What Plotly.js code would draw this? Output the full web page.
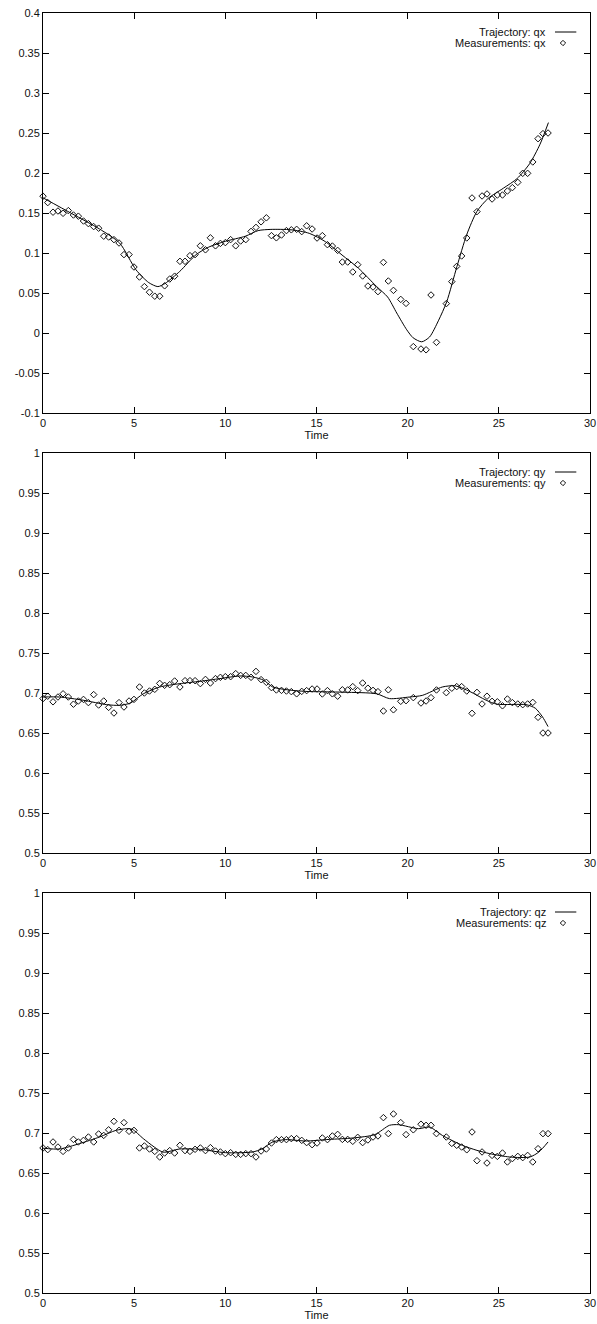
<!DOCTYPE html>
<html>
<head>
<meta charset="utf-8">
<script src="https://cdn.plot.ly/plotly-3.0.1.min.js"></script>
<style>html,body{margin:0;padding:0;background:#fff;}#chart{width:597px;height:1324px;}</style>
</head>
<body>
<div id="chart"></div>
<script>
const time = [0.00,0.26,0.55,0.82,1.10,1.39,1.67,1.94,2.22,2.49,2.78,3.05,3.33,3.60,3.89,4.17,4.44,4.72,4.99,5.29,
5.56,5.84,6.13,6.40,6.67,6.95,7.22,7.51,7.79,8.06,8.34,8.63,8.91,9.18,9.46,9.73,10.00,10.29,10.57,10.84,
11.12,11.41,11.68,11.96,12.25,12.53,12.80,13.08,13.35,13.62,13.91,14.19,14.46,14.76,15.03,15.32,15.60,15.87,16.16,16.42,
16.71,16.99,17.26,17.53,17.82,18.10,18.37,18.67,18.94,19.22,19.62,19.91,20.31,20.73,21.01,21.28,21.58,22.12,22.42,22.69,
22.96,23.24,23.53,23.80,24.08,24.35,24.63,24.92,25.20,25.47,25.74,26.04,26.31,26.58,26.86,27.15,27.42,27.70];

const qxMeas = [0.171,0.163,0.151,0.1525,0.1496,0.153,0.1475,0.146,0.140,0.1367,0.133,0.131,0.121,0.120,0.1167,0.1125,0.098,0.098,0.0825,0.070,
0.058,0.051,0.046,0.046,0.059,0.0675,0.071,0.0896,0.0896,0.0967,0.098,0.109,0.104,0.119,0.109,0.112,0.113,0.1167,0.109,0.115,
0.1167,0.127,0.132,0.139,0.144,0.1217,0.119,0.1225,0.128,0.129,0.1296,0.1267,0.134,0.130,0.1187,0.1217,0.1104,0.1087,0.1033,0.0887,
0.0887,0.0763,0.0854,0.0713,0.0587,0.0575,0.0517,0.0883,0.065,0.0533,0.042,0.037,-0.017,-0.020,-0.021,0.0475,-0.0117,0.0367,0.0642,0.0833,
0.0963,0.1188,0.1688,0.1517,0.1713,0.1738,0.1675,0.1725,0.1725,0.1775,0.1817,0.1883,0.1996,0.1996,0.2138,0.2429,0.2492,0.250];

const qyMeas = [0.693,0.696,0.689,0.695,0.699,0.695,0.686,0.690,0.692,0.688,0.698,0.685,0.690,0.682,0.675,0.688,0.6825,0.690,0.692,0.7075,
0.700,0.7025,0.7046,0.712,0.7096,0.7104,0.715,0.7075,0.7154,0.7154,0.7154,0.7117,0.717,0.7125,0.718,0.7196,0.7204,0.7204,0.7242,0.722,
0.722,0.7196,0.727,0.7167,0.7133,0.7067,0.7038,0.7033,0.7025,0.7017,0.699,0.702,0.703,0.705,0.705,0.6988,0.703,0.699,0.696,0.704,
0.7038,0.708,0.703,0.7125,0.706,0.7033,0.7017,0.6775,0.704,0.679,0.6896,0.6904,0.6942,0.6875,0.690,0.6942,0.7038,0.7004,0.706,0.708,
0.708,0.7025,0.6746,0.7008,0.6863,0.696,0.6896,0.689,0.684,0.6925,0.688,0.6863,0.6854,0.6863,0.6883,0.6696,0.650,0.650];

const qzMeas = [0.6813,0.6792,0.6888,0.6825,0.677,0.6813,0.692,0.6888,0.6908,0.695,0.6888,0.6988,0.697,0.704,0.7146,0.7033,0.713,0.7021,0.7033,0.6813,
0.6838,0.680,0.677,0.670,0.675,0.678,0.675,0.6846,0.678,0.677,0.6796,0.6813,0.678,0.6817,0.6775,0.6763,0.6742,0.6754,0.6733,0.6733,
0.6742,0.6742,0.670,0.6775,0.680,0.6875,0.6917,0.6917,0.6917,0.693,0.693,0.6908,0.688,0.6854,0.6875,0.6938,0.6917,0.6963,0.6983,0.692,
0.692,0.6896,0.6946,0.688,0.6913,0.695,0.6963,0.7192,0.6992,0.7238,0.713,0.698,0.704,0.711,0.7096,0.7096,0.6992,0.695,0.687,0.6846,
0.6825,0.679,0.7013,0.6654,0.6763,0.6625,0.672,0.6708,0.675,0.6638,0.668,0.6708,0.6692,0.672,0.6638,0.6804,0.6992,0.6992];

// Estimated trajectories (knots)
const trajTimeX = [0,1.6,3.1,4.2,5.1,5.8,6.3,6.7,7.5,8.4,9.1,10.0,11.1,11.8,12.5,13.6,14.6,15.5,16.4,17.3,18.3,18.9,19.4,19.95,20.3,20.77,21.2,21.7,22.14,22.7,23.24,23.8,24.4,25.25,26.0,26.7,27.26,27.72];
const trajQx = [0.169,0.149,0.130,0.1125,0.079,0.063,0.058,0.062,0.077,0.098,0.1075,0.1146,0.121,0.128,0.1295,0.129,0.1246,0.114,0.0975,0.081,0.058,0.045,0.025,0.004,-0.006,-0.011,-0.005,0.016,0.039,0.083,0.123,0.152,0.168,0.181,0.193,0.212,0.236,0.263];

const trajTimeY = [0,0.9,2.2,3.5,4.2,4.8,5.5,6.4,7.5,8.6,9.7,10.8,11.5,12.1,12.6,13.4,14.4,16.5,18.3,19.0,20.1,20.8,21.9,22.6,23.4,24.3,24.9,26.5,27.0,27.4,27.7];
const trajQy = [0.695,0.695,0.691,0.6854,0.6846,0.6875,0.699,0.7075,0.7117,0.7146,0.718,0.7213,0.720,0.716,0.7075,0.704,0.702,0.701,0.699,0.693,0.695,0.697,0.7075,0.709,0.702,0.691,0.686,0.6854,0.681,0.670,0.658];

const trajTimeZ = [0,0.9,2.0,3.1,4.0,4.6,4.9,5.5,6.1,6.6,7.5,8.6,10.0,11.5,12.0,12.6,13.3,14.4,15.7,17.0,18.2,19.0,19.5,20.6,21.2,21.9,23.0,23.8,24.5,25.6,26.7,27.2,27.7];
const trajQz = [0.681,0.680,0.6867,0.695,0.7033,0.7054,0.7046,0.693,0.6825,0.676,0.680,0.6796,0.6754,0.6763,0.680,0.6888,0.6917,0.690,0.692,0.6938,0.698,0.7096,0.7104,0.7054,0.7075,0.697,0.6846,0.6783,0.6742,0.670,0.670,0.6763,0.6888];

// Tick labels
const xTickVals = [0,5,10,15,20,25,30];
const xTickText = ['0','5','10','15','20','25','30'];
const yTickValsX = [-0.1,-0.05,0,0.05,0.1,0.15,0.2,0.25,0.3,0.35,0.4];
const yTickTextX = ['-0.1','-0.05','0','0.05','0.1','0.15','0.2','0.25','0.3','0.35','0.4'];
const yTickValsYZ = [0.5,0.55,0.6,0.65,0.7,0.75,0.8,0.85,0.9,0.95,1];
const yTickTextYZ = ['0.5','0.55','0.6','0.65','0.7','0.75','0.8','0.85','0.9','0.95','1'];

const legendNames = [['Trajectory: qx','Measurements: qx'],['Trajectory: qy','Measurements: qy'],['Trajectory: qz','Measurements: qz']];

const FONT = 'Liberation Sans, Arial, Helvetica, sans-serif';
const lineStyle = {color:'#000', width:1, shape:'spline', smoothing:0.7};
const markerStyle = {symbol:'diamond-open', size:5, color:'#111', line:{width:1, color:'#111'}};

const traces = [];
const sets = [[trajTimeX,trajQx,qxMeas],[trajTimeY,trajQy,qyMeas],[trajTimeZ,trajQz,qzMeas]];
sets.forEach((s,i)=>{
  const xa = i===0?'x':'x'+(i+1), ya = i===0?'y':'y'+(i+1);
  traces.push({x:s[0], y:s[1], mode:'lines', line:lineStyle, xaxis:xa, yaxis:ya, showlegend:false, hoverinfo:'skip'});
  traces.push({x:time, y:s[2], mode:'markers', marker:markerStyle, xaxis:xa, yaxis:ya, showlegend:false, cliponaxis:false});
});

function xAxis(anchor){
  return {domain:[0,1], range:[0,30], anchor:anchor, tickmode:'array', tickvals:xTickVals, ticktext:xTickText,
    ticks:'inside', ticklen:6, tickcolor:'#000', mirror:'ticks', showline:true, linecolor:'#000', linewidth:1,
    showgrid:false, zeroline:false, tickfont:{size:11, family:FONT, color:'#111'},
    title:{text:'Time', font:{size:11, family:FONT, color:'#111'}, standoff:0}};
}
function yAxis(anchor, dom, rng, vals, txt){
  return {domain:dom, range:rng, anchor:anchor, tickmode:'array', tickvals:vals, ticktext:txt,
    ticks:'inside', ticklen:6, tickcolor:'#000', mirror:'ticks', showline:true, linecolor:'#000', linewidth:1,
    showgrid:false, zeroline:false, tickfont:{size:11, family:FONT, color:'#111'}};
}

const doms = [[0.6875,1],[0.34375,0.65625],[0,0.3125]];
const layout = {
  width:597, height:1324, margin:{l:43, r:7, t:13, b:31}, paper_bgcolor:'#fff', plot_bgcolor:'#fff',
  font:{family:FONT, size:11, color:'#111'}, showlegend:false,
  xaxis:xAxis('y'), yaxis:yAxis('x', doms[0], [-0.1,0.4], yTickValsX, yTickTextX),
  xaxis2:xAxis('y2'), yaxis2:yAxis('x2', doms[1], [0.5,1], yTickValsYZ, yTickTextYZ),
  xaxis3:xAxis('y3'), yaxis3:yAxis('x3', doms[2], [0.5,1], yTickValsYZ, yTickTextYZ),
  annotations:[], shapes:[]
};

// gnuplot-style key, top-right inside each panel
legendNames.forEach((names,i)=>{
  const xr = (i===0?'x':'x'+(i+1))+' domain', yr = (i===0?'y':'y'+(i+1))+' domain';
  layout.annotations.push({xref:xr, yref:yr, x:0.923, y:0.9525, xanchor:'right', yanchor:'middle', text:names[0], showarrow:false, font:{size:11, family:FONT, color:'#111'}});
  layout.annotations.push({xref:xr, yref:yr, x:0.923, y:0.925, xanchor:'right', yanchor:'middle', text:names[1], showarrow:false, font:{size:11, family:FONT, color:'#111'}});
  layout.shapes.push({type:'line', xref:xr, yref:yr, x0:0.936, x1:0.975, y0:0.9525, y1:0.9525, line:{color:'#000', width:1}});
  const cx=0.9506, cy=0.925, dx=0.0049, dy=0.0067;
  layout.shapes.push({type:'path', xref:xr, yref:yr,
    path:`M ${cx-dx} ${cy} L ${cx} ${cy+dy} L ${cx+dx} ${cy} L ${cx} ${cy-dy} Z`, line:{color:'#111', width:1}});
});

Plotly.newPlot('chart', traces, layout, {displayModeBar:false, staticPlot:true});
</script>
</body>
</html>
